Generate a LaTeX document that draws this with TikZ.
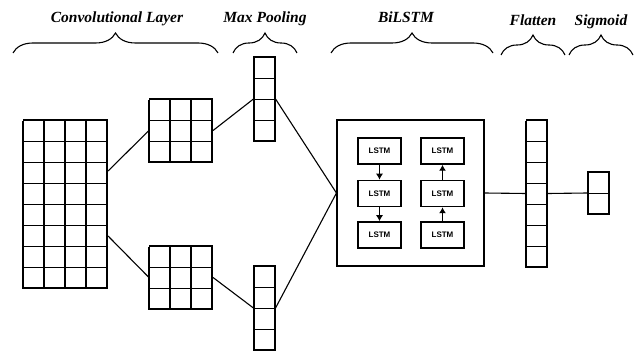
\documentclass[tikz,border=0pt]{standalone}
\usepackage{fontspec}
\setmainfont{Liberation Serif}
\newfontfamily\lstmfont{Liberation Sans}
\usepackage{tikz}
\usetikzlibrary{arrows.meta,decorations.pathreplacing}
\tikzset{
every node/.style={rectangle, draw, inner sep=0pt, line width=1.1pt},
lstm/.style={minimum width=43pt, minimum height=26pt, line width=1.5pt, font=\lstmfont\bfseries\fontsize{8}{9}\selectfont},
title/.style={draw=none, anchor=base, font=\bfseries\itshape\fontsize{15.5}{17}\selectfont},
layerbrace/.style={decorate, decoration={brace, amplitude=20pt}, line width=1.1pt},
flow/.style={-{Latex[length=6pt,width=7pt]}}
}

\begin{document}
\begin{tikzpicture}[x=1pt, y=1pt, line width=1.1pt]
\useasboundingbox (0,0) rectangle (638,354);

\node[minimum width=84pt, minimum height=168pt] (conv) at (65.5,150) {};
\node[minimum width=63pt, minimum height=63pt] (up) at (181,223.5) {};
\node[minimum width=63pt, minimum height=63pt] (low) at (181,76.5) {};
\node[minimum width=21pt, minimum height=84pt] (uppool) at (264.5,255) {};
\node[minimum width=21pt, minimum height=84pt] (lowpool) at (264.5,46) {};
\node[minimum width=147pt, minimum height=146pt] (bilstm) at (410.5,161) {};
\node[minimum width=21pt, minimum height=147pt] (flat) at (537,160.5) {};
\node[minimum width=21pt, minimum height=42pt] (sig) at (598.5,161) {};

% cells
\draw[shift={(conv.south west)}] (0,0) grid[step=21pt] (84,168);
\draw[shift={(up.south west)}] (0,0) grid[step=21pt] (63,63);
\draw[shift={(low.south west)}] (0,0) grid[step=21pt] (63,63);
\draw[shift={(uppool.south west)}] (0,0) grid[step=21pt] (21,84);
\draw[shift={(lowpool.south west)}] (0,0) grid[step=21pt] (21,84);
\draw[shift={(flat.south west)}] (0,0) grid[step=21pt] (21,147);
\draw[shift={(sig.south west)}] (0,0) grid[step=21pt] (21,42);

\node[lstm] (f1) at (379.5,203) {LSTM};
\node[lstm] (f2) at (379.5,160.5) {LSTM};
\node[lstm] (f3) at (379.5,119) {LSTM};
\node[lstm] (b1) at (442.5,203) {LSTM};
\node[lstm] (b2) at (442.5,160.5) {LSTM};
\node[lstm] (b3) at (442.5,119) {LSTM};

\draw[flow] (f1) -- (f2);
\draw[flow] (f2) -- (f3);
\draw[flow] (b3) -- (b2);
\draw[flow] (b2) -- (b1);

\draw ([yshift=33pt]conv.east) -- (up.west);
\draw ([yshift=-32pt]conv.east) -- (low.west);
\draw (up.east) -- (uppool.west);
\draw (low.east) -- (lowpool.west);
\draw (uppool.east) -- (bilstm.west);
\draw (lowpool.east) -- (bilstm.west);
\draw (bilstm.east) -- (flat.west);
\draw (flat.east) -- (sig.west);

% braces and titles
\draw[layerbrace] (13,301) -- (218,301);
\draw[layerbrace] (233,301) -- (297,301);
\draw[layerbrace] (331,301) -- (493,301);
\draw[layerbrace] (501,299) -- (565,299);
\draw[layerbrace] (569,299) -- (633,299);

\node[title] (tconv) at (117,331) {Convolutional Layer};
\node[title] (tpool) at (265,331) {Max Pooling};
\node[title] (tbi) at (406,331) {BiLSTM};
\node[title] (tflat) at (533,328) {Flatten};
\node[title] (tsig) at (601,328) {Sigmoid};

\end{tikzpicture}
\end{document}
